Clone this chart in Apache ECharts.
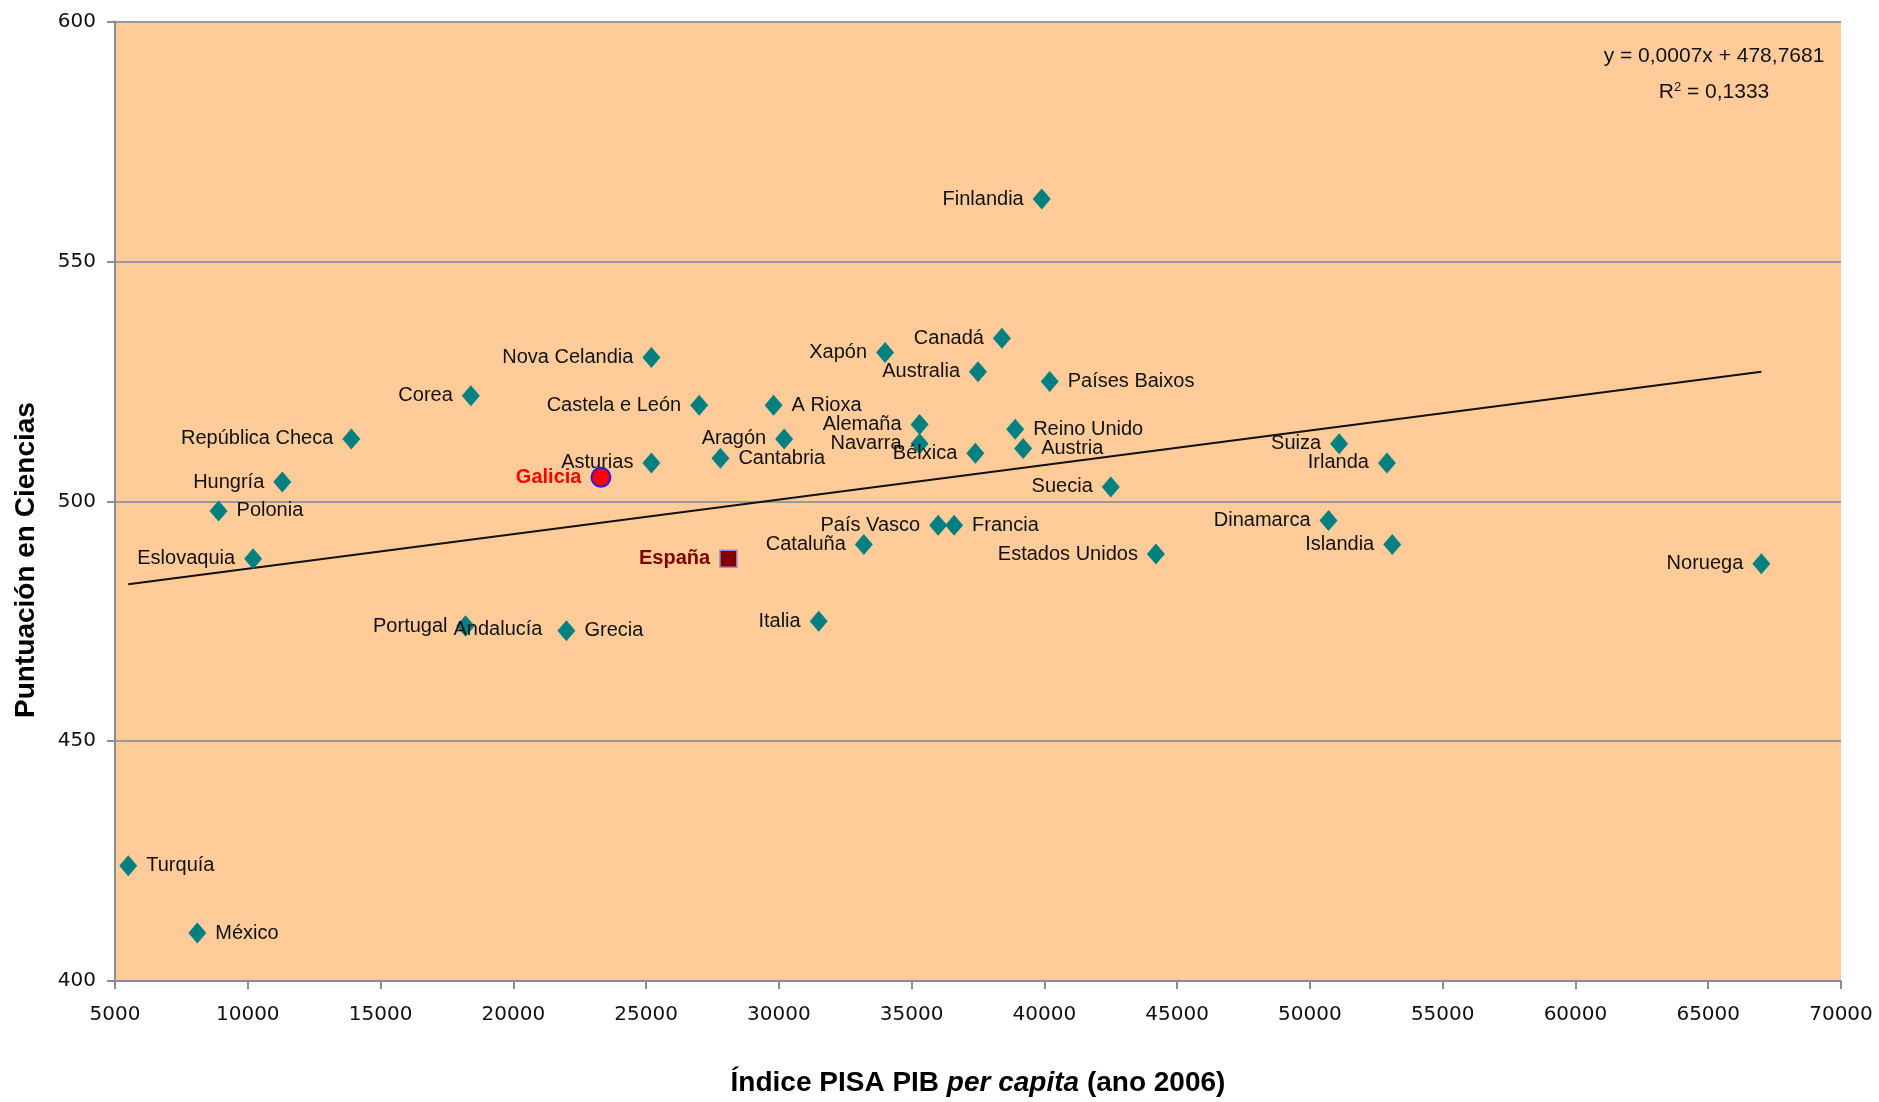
<!DOCTYPE html>
<html>
<head>
<meta charset="utf-8">
<script src="https://cdn.jsdelivr.net/npm/echarts@6/dist/echarts.min.js"></script>
<style>
html,body{margin:0;padding:0;background:#fff;}
#chart{width:1879px;height:1102px;}
</style>
</head>
<body>
<div id="chart"></div>
<script>
// ---- Data ----
const countryNames = ['Finlandia','Canadá','Xapón','Nova Celandia','Australia','Países Baixos','Corea','Alemaña','Reino Unido','República Checa','Suiza','Austria','Bélxica','Irlanda','Hungría','Suecia','Polonia','Dinamarca','Francia','Islandia','Estados Unidos','Eslovaquia','Noruega','Italia','Portugal','Grecia','Turquía','México'];
const countryGDP   = [39900,38400,34000,25200,37500,40200,18400,35300,38900,13900,51100,39200,37400,52900,11300,42500,8900,50700,36600,53100,44200,10200,67000,31500,18200,22000,5500,8100];
const countryScore = [563,534,531,530,527,525,522,516,515,513,512,511,510,508,504,503,498,496,495,491,489,488,487,475,474,473,424,410];

const regionNames = ['Castela e León','A Rioxa','Aragón','Navarra','Cantabria','Asturias','País Vasco','Cataluña','Andalucía'];
const regionGDP   = [27000,29800,30200,35300,27800,25200,36000,33200,18200];
const regionScore = [520,520,513,512,509,508,495,491,474];

const galiciaName = 'Galicia';
const galiciaGDP = 23300;
const galiciaScore = 505;

const spainName = 'España';
const spainGDP = 28100;
const spainScore = 488;

const xTicks = {min:5000, max:70000, interval:5000};
const yTicks = {min:400, max:600, interval:50};

const trendSlope = 0.00072;      // label rounds to 0,0007
const trendIntercept = 478.7681;
const trendLabel = 'y = 0,0007x + 478,7681';
const r2Label = '0,1333';

// label side (style only)
const rightLabels = {'Países Baixos':1,'A Rioxa':1,'Reino Unido':1,'Austria':1,'Francia':1,'Grecia':1,'Cantabria':1,'Polonia':1,'Turquía':1,'México':1,'Andalucía':1};
const labelOffsets = {'Andalucía':[-30,3]};

// ---- Build ----
const FONT = '"Liberation Sans", Arial, sans-serif';
function mk(names, xs, ys){
  return names.map((n,i)=>{
    const right = !!rightLabels[n];
    const o = {name:n, value:[xs[i], ys[i]], label:{position: right?'right':'left'}};
    if (labelOffsets[n]) o.label.offset = labelOffsets[n];
    return o;
  });
}
const diamondData = mk(countryNames, countryGDP, countryScore).concat(mk(regionNames, regionGDP, regionScore));

const allX = countryGDP.concat(regionGDP,[galiciaGDP, spainGDP]);
const xMin = Math.min.apply(null, allX), xMax = Math.max.apply(null, allX);
const trendData = [[xMin, trendSlope*xMin+trendIntercept],[xMax, trendSlope*xMax+trendIntercept]];

const labelBase = {show:true, formatter:'{b}', fontFamily:FONT, fontSize:20, color:'#111', distance:9};

const chart = echarts.init(document.getElementById('chart'), null, {renderer:'canvas'});
chart.setOption({
  animation:false,
  backgroundColor:'#ffffff',
  grid:{left:115, right:38, top:21.6, bottom:117, show:true, backgroundColor:'#FFCC99', borderWidth:0},
  xAxis:{
    type:'value', min:xTicks.min, max:xTicks.max, interval:xTicks.interval,
    axisLine:{show:true, onZero:false, lineStyle:{color:'#8c8c8c', width:2}},
    axisTick:{show:true, length:8, lineStyle:{color:'#8c8c8c', width:2}},
    axisLabel:{fontFamily:'"DejaVu Sans", sans-serif', fontSize:20, color:'#111', margin:24, formatter:v=>String(v)},
    splitLine:{show:false},
    name:'{b|Índice PISA PIB }{bi|per capita}{b| (ano 2006)}',
    nameLocation:'middle', nameGap:88,
    nameTextStyle:{rich:{
      b:{fontFamily:FONT, fontWeight:'bold', fontSize:28, color:'#000'},
      bi:{fontFamily:FONT, fontWeight:'bold', fontStyle:'italic', fontSize:28, color:'#000'}
    }}
  },
  yAxis:{
    type:'value', min:yTicks.min, max:yTicks.max, interval:yTicks.interval,
    axisLine:{show:true, onZero:false, lineStyle:{color:'#8c8c8c', width:2}},
    axisTick:{show:true, length:8, lineStyle:{color:'#8c8c8c', width:2}},
    axisLabel:{fontFamily:'"DejaVu Sans", sans-serif', fontSize:20, color:'#111', margin:19, formatter:v=>String(v)},
    splitLine:{show:true, lineStyle:{color:'#9a9a9a', width:2}}
  },
  graphic:[
    {type:'text', x:26, y:560, rotation:Math.PI/2,
     style:{text:'Puntuación en Ciencias', fontFamily:FONT, fontWeight:'bold', fontSize:28, fill:'#000', align:'center', verticalAlign:'middle'}},
    {type:'text', x:1714, y:56,
     style:{text:trendLabel, fontFamily:FONT, fontSize:21, fill:'#111', align:'center', verticalAlign:'middle'}},
    {type:'text', x:1714, y:92,
     style:{text:'R{sup|2} = ' + r2Label, fontFamily:FONT, fontSize:21, fill:'#111', align:'center', verticalAlign:'middle',
       rich:{sup:{fontFamily:FONT, fontSize:13, fill:'#111', verticalAlign:'top', padding:[0,0,10,0]}}}}
  ],
  series:[
    {type:'line', data:trendData, symbol:'none', silent:true, z:2,
     lineStyle:{color:'#111', width:2}},
    {type:'scatter', data:diamondData, symbol:'diamond', symbolSize:[18,21], z:3,
     itemStyle:{color:'#008080', opacity:1}, label:labelBase},
    {type:'scatter', data:[{name:galiciaName, value:[galiciaGDP, galiciaScore]}], symbol:'circle', symbolSize:19, z:4,
     itemStyle:{color:'#ff0000', borderColor:'#2020e0', borderWidth:2, opacity:1},
     label:Object.assign({}, labelBase, {position:'left', color:'#ff0000', fontWeight:'bold'})},
    {type:'scatter', data:[{name:spainName, value:[spainGDP, spainScore]}], symbol:'rect', symbolSize:17, z:4,
     itemStyle:{color:'#800000', borderColor:'#9a8fc8', borderWidth:1.5, opacity:1},
     label:Object.assign({}, labelBase, {position:'left', color:'#800000', fontWeight:'bold'})}
  ]
});
</script>
</body>
</html>
